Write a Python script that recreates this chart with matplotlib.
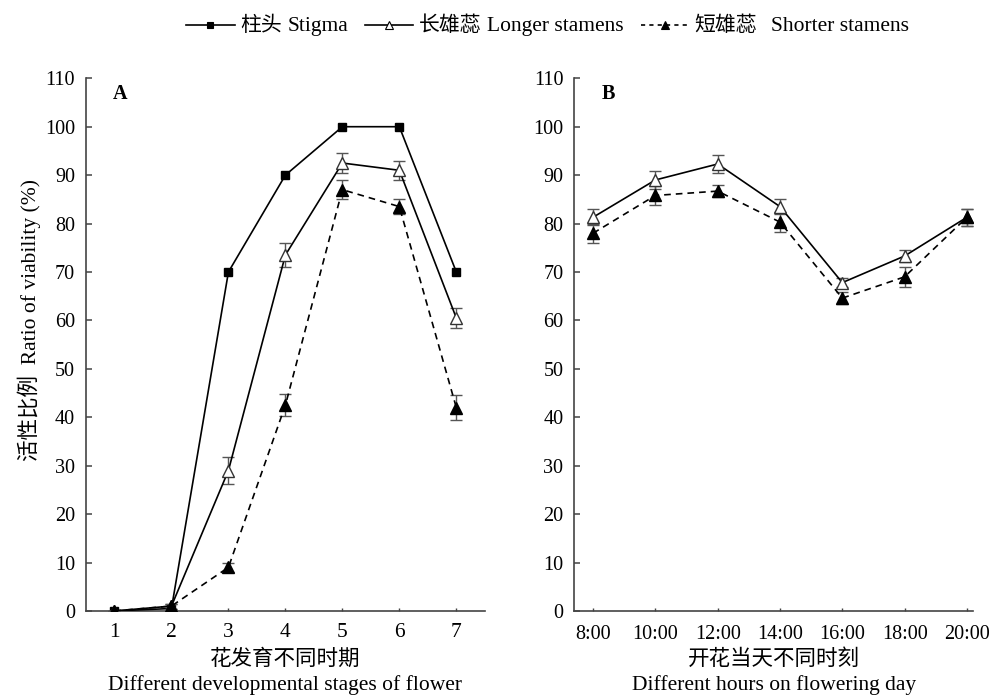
import matplotlib
matplotlib.use("Agg")
import matplotlib.pyplot as plt
from matplotlib.lines import Line2D
from matplotlib.offsetbox import HPacker, TextArea, DrawingArea, AnchoredOffsetbox

SERIF = 'Liberation Serif'
CJK = 'Noto Sans CJK SC'
FAM = [SERIF, CJK]
plt.rcParams['font.family'] = FAM
plt.rcParams['font.size'] = 15

# Panel A data
stages = [1, 2, 3, 4, 5, 6, 7]
stigma_A = [0, 0.5, 70, 90, 100, 100, 70]
longer_A = [0, 1, 29, 73.5, 92.5, 91, 60.5]
longer_A_err = [0, 0.5, 2.8, 2.5, 2.0, 2.0, 2.0]
shorter_A = [0, 1, 9, 42.5, 87, 83.5, 42]
shorter_A_err = [0, 0.5, 1.0, 2.3, 2.0, 1.5, 2.5]

# Panel B data
hours = ["8:00", "10:00", "12:00", "14:00", "16:00", "18:00", "20:00"]
longer_B = [81.3, 89, 92.3, 83.5, 67.8, 73.3, 81.3]
longer_B_err = [1.7, 1.8, 1.9, 1.6, 1.0, 1.2, 1.8]
shorter_B = [78, 85.8, 86.7, 80.3, 64.6, 69, 81.3]
shorter_B_err = [2.0, 2.0, 1.2, 2.0, 1.3, 2.0, 1.8]

yticks = list(range(0, 111, 10))
legend_cn = ['柱头', '长雄蕊', '短雄蕊']
legend_en = ['Stigma', 'Longer stamens', 'Shorter stamens']

fig = plt.figure(figsize=(9.92, 6.99), dpi=100)
axA = fig.add_axes([0.0867, 0.126, 0.402, 0.762])
axB = fig.add_axes([0.579, 0.126, 0.402, 0.762])

ecol = '#555555'
DASH = (0, (4, 3))

def style(ax):
    for s in ['top', 'right']:
        ax.spines[s].set_visible(False)
    for s in ['left', 'bottom']:
        ax.spines[s].set_color('#444444')
        ax.spines[s].set_linewidth(1.2)
    ax.set_ylim(0, 110)
    ax.set_yticks(yticks)
    ax.tick_params(axis='y', direction='in', length=4.5, width=1.1, color='#444444', labelsize=14.5, pad=8)
    ax.tick_params(axis='x', direction='in', length=2.5, width=1.0, color='#444444', labelsize=14.5, pad=10)

# Panel A
axA.plot(stages, stigma_A, '-', color='black', lw=1.2, marker='s', ms=6, mfc='black', mec='black', zorder=3)
axA.errorbar(stages, longer_A, yerr=longer_A_err, fmt='-', color='black', lw=1.2, marker='^', ms=8,
             mfc='white', mec='#333333', ecolor=ecol, elinewidth=1, capsize=4, zorder=3)
axA.errorbar(stages, shorter_A, yerr=shorter_A_err, color='black', lw=1.2, ls=DASH, marker='^', ms=8,
             mfc='black', mec='black', ecolor=ecol, elinewidth=1, capsize=4, zorder=3)
style(axA)
axA.set_xlim(0.5, 7.5)
axA.set_xticks(stages)
axA.set_xticklabels([str(s) for s in stages])
axA.tick_params(axis='x', labelsize=15.5, pad=9)
axA.text(0.068, 0.99, 'A', transform=axA.transAxes, fontsize=14.5, fontweight='bold', va='top', family=SERIF)
axA.set_xlabel('花发育不同时期\nDifferent developmental stages of flower', fontsize=15.5,
               linespacing=1.35)
axA.xaxis.set_label_coords(0.5, -0.072)

# Panel B
xb = list(range(len(hours)))
axB.errorbar(xb, longer_B, yerr=longer_B_err, fmt='-', color='black', lw=1.2, marker='^', ms=8,
             mfc='white', mec='#333333', ecolor=ecol, elinewidth=1, capsize=4, zorder=3)
axB.errorbar(xb, shorter_B, yerr=shorter_B_err, color='black', lw=1.2, ls=DASH, marker='^', ms=8,
             mfc='black', mec='black', ecolor=ecol, elinewidth=1, capsize=4, zorder=3)
style(axB)
axB.set_xlim(-0.3, 6.1)
axB.set_xticks(xb)
axB.set_xticklabels(hours)
axB.text(0.068, 0.99, 'B', transform=axB.transAxes, fontsize=14.5, fontweight='bold', va='top', family=SERIF)
axB.set_xlabel('开花当天不同时刻\nDifferent hours on flowering day', fontsize=15.5,
               linespacing=1.35)
axB.xaxis.set_label_coords(0.5, -0.072)

# y label
fig.text(0.029, 0.542, '活性比例  Ratio of viability (%)', rotation=90, ha='center', va='center', fontsize=15.5)

# Legend built from packed pieces
def handle(ls, marker, ms, mfc):
    w = 35
    da = DrawingArea(w, 10, 0, 0)
    da.add_artist(Line2D([0, w], [4.5, 4.5], color='black', lw=1.2, ls=ls))
    da.add_artist(Line2D([w / 2], [4.5], marker=marker, ms=ms, mfc=mfc, mec='black', mew=0.8, ls='none'))
    return da

handles = [handle('-', 's', 5, 'black'), handle('-', '^', 6, 'white'), handle((0, (2.5, 2.5)), '^', 6, 'black')]
gaps = [4, 4, 10]
entries = []
for h, cn, en, g in zip(handles, legend_cn, legend_en, gaps):
    t_cn = TextArea(cn, textprops=dict(family=CJK, size=15))
    t_en = TextArea(en, textprops=dict(family=SERIF, size=15.5))
    entries.append(HPacker(children=[h, HPacker(children=[t_cn, t_en], sep=g, align='baseline')],
                           sep=4, align='baseline'))
leg = HPacker(children=entries, sep=12, align='baseline')
anch = AnchoredOffsetbox(loc='center', child=leg, pad=0, frameon=False,
                         bbox_to_anchor=(0.552, 0.964), bbox_transform=fig.transFigure, borderpad=0)
fig.add_artist(anch)

fig.savefig('out.png', dpi=100)
